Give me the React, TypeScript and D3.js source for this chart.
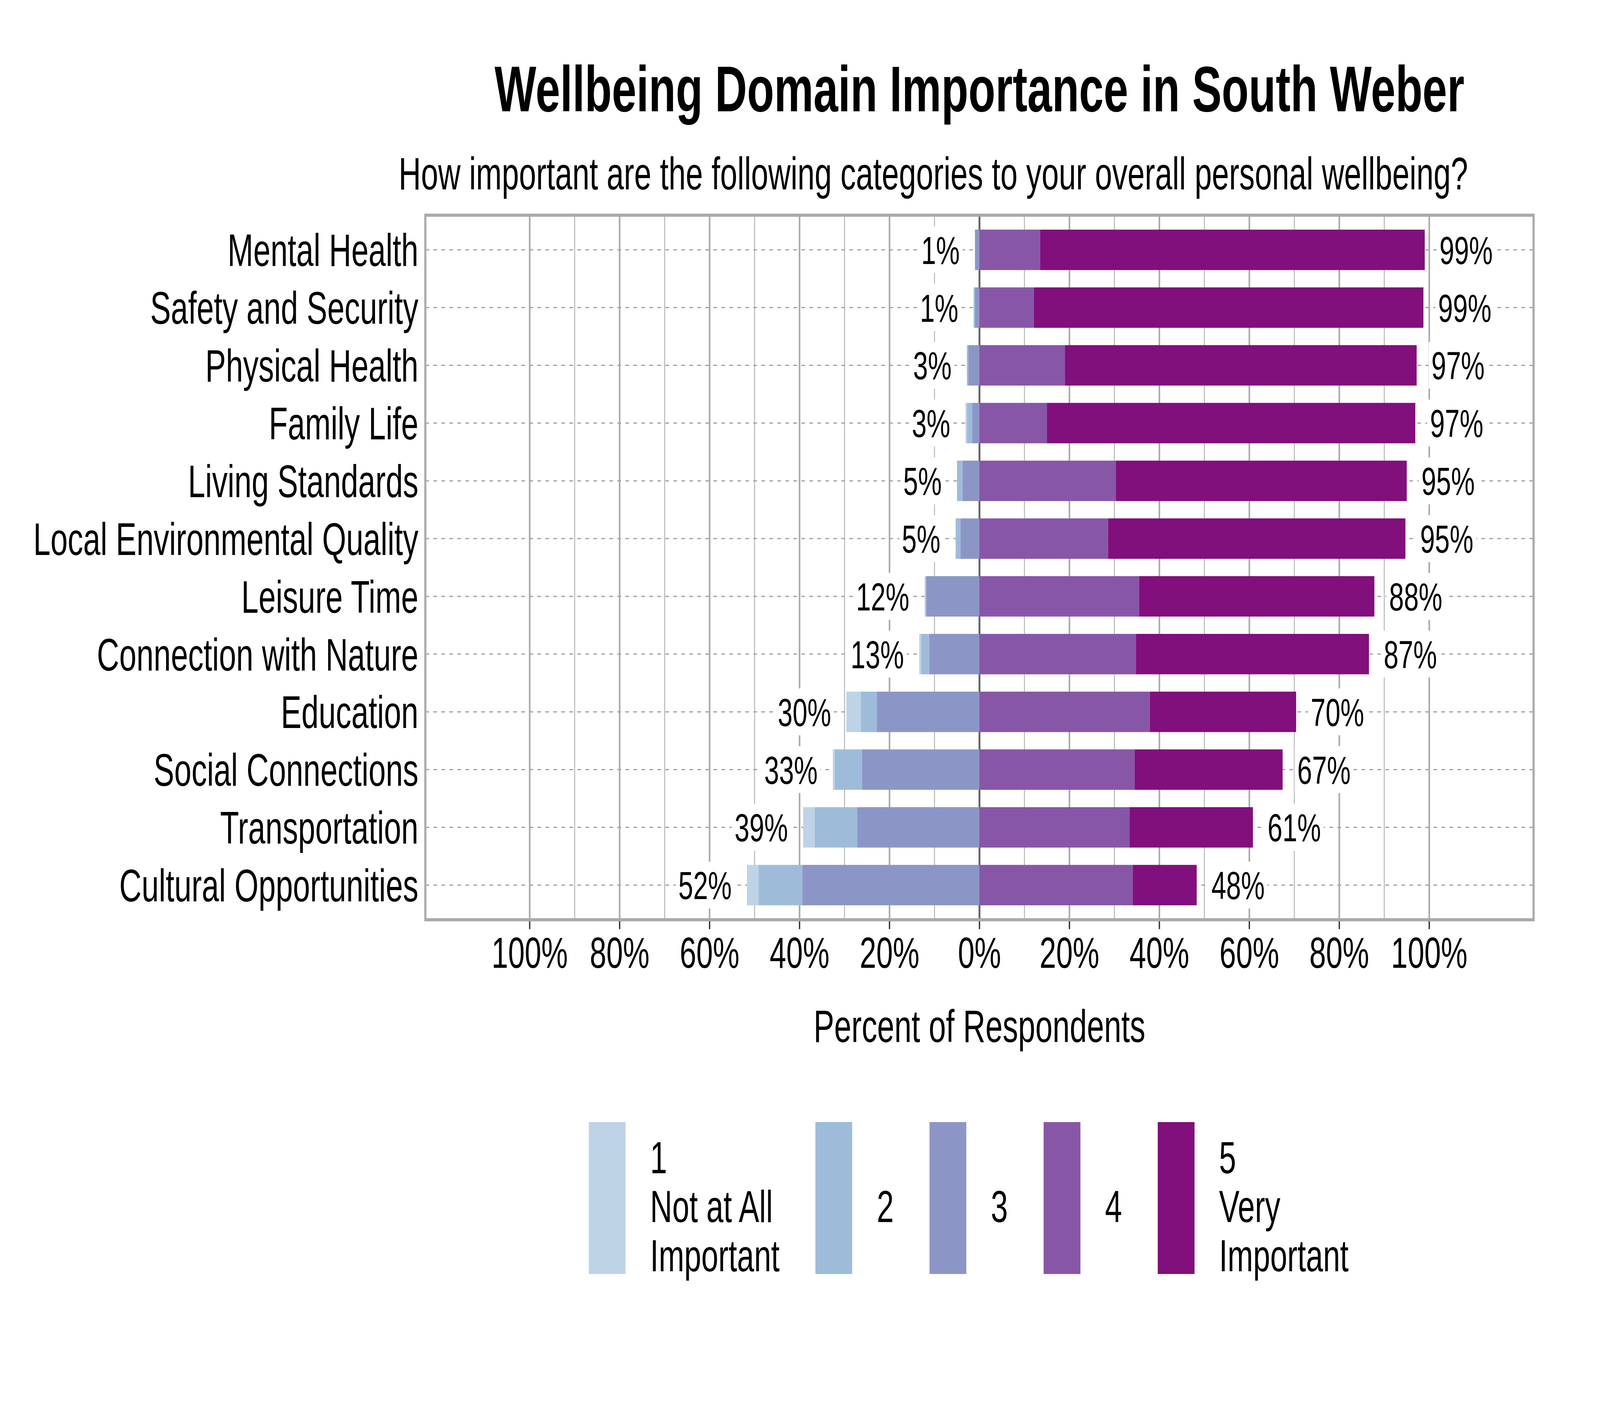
import React, { useEffect, useRef } from 'react';
import * as d3 from 'd3';

const WIDTH = 6000;
const HEIGHT = 3600;
const PANEL = { left: 1595, right: 5751, top: 551, bottom: 2355 };
const FONT = '"Liberation Sans", Arial, Helvetica, sans-serif';

const categories = [
  'Mental Health',
  'Safety and Security',
  'Physical Health',
  'Family Life',
  'Living Standards',
  'Local Environmental Quality',
  'Leisure Time',
  'Connection with Nature',
  'Education',
  'Social Connections',
  'Transportation',
  'Cultural Opportunities',
];

// percent of respondents per answer level
const level1 = [0, 0, 0, 0.3, 0, 0, 0.3, 0.4, 3.2, 0.4, 2.6, 2.6];
const level2 = [0, 0.3, 0.3, 1.2, 1.2, 1.1, 0, 1.8, 3.6, 6.1, 9.4, 9.7];
const level3 = [1.0, 1.0, 2.5, 1.6, 3.8, 4.2, 11.9, 11.2, 22.8, 26.1, 27.2, 39.4];
const level4 = [13.5, 12.1, 19.0, 15.0, 30.3, 28.6, 35.5, 34.8, 37.9, 34.5, 33.4, 34.1];
const level5 = [85.5, 86.6, 78.2, 81.9, 64.7, 66.1, 52.3, 51.8, 32.5, 32.9, 27.4, 14.2];

const legendLabels = [
  ['1', 'Not at All', 'Important'],
  ['2'],
  ['3'],
  ['4'],
  ['5', 'Very', 'Important'],
];

const xTicks = [-100, -80, -60, -40, -20, 0, 20, 40, 60, 80, 100];
const minorTicks = [-90, -70, -50, -30, -10, 10, 30, 50, 70, 90];

const colors = ['#bfd3e6', '#9ebcda', '#8c96c6', '#8856a7', '#810f7c'];

const App = () => {
  const ref = useRef<SVGSVGElement>(null);

  useEffect(() => {
    document.body.style.margin = '0';
    document.body.style.overflow = 'hidden';
    if (!ref.current) return;
    const svg = d3.select(ref.current);
    svg.selectAll('*').remove();

    const x = d3.scaleLinear().domain([-123.2, 123.2]).range([PANEL.left, PANEL.right]);
    const y = d3
      .scaleBand()
      .domain(categories)
      .range([PANEL.top, PANEL.bottom])
      .paddingInner(0.3)
      .paddingOuter(0.25);
    const mid = (c: string) => y(c)! + y.bandwidth() / 2;

    svg.append('rect').attr('width', WIDTH).attr('height', HEIGHT).attr('fill', 'white');

    // titles
    svg
      .append('text')
      .attr('x', 3673)
      .attr('y', 285)
      .attr('text-anchor', 'middle')
      .style('font-family', FONT)
      .style('font-size', '166px')
      .style('font-weight', 'bold')
      .text('Wellbeing Domain Importance in South Weber');

    svg
      .append('text')
      .attr('x', 3500)
      .attr('y', 485)
      .attr('text-anchor', 'middle')
      .style('font-family', FONT)
      .style('font-size', '116px')
      .text('How important are the following categories to your overall personal wellbeing?');

    // grid
    const grid = svg.append('g');
    grid
      .selectAll('line.minor')
      .data(minorTicks)
      .enter()
      .append('line')
      .attr('x1', (d) => x(d))
      .attr('x2', (d) => x(d))
      .attr('y1', PANEL.top)
      .attr('y2', PANEL.bottom)
      .attr('stroke', '#b4b4b4')
      .attr('stroke-width', 3.5);
    grid
      .selectAll('line.major')
      .data(xTicks)
      .enter()
      .append('line')
      .attr('x1', (d) => x(d))
      .attr('x2', (d) => x(d))
      .attr('y1', PANEL.top)
      .attr('y2', PANEL.bottom)
      .attr('stroke', '#aaaaaa')
      .attr('stroke-width', 6);
    grid
      .selectAll('line.row')
      .data(categories)
      .enter()
      .append('line')
      .attr('x1', PANEL.left)
      .attr('x2', PANEL.right)
      .attr('y1', (d) => mid(d))
      .attr('y2', (d) => mid(d))
      .attr('stroke', '#a0a0a0')
      .attr('stroke-width', 3)
      .attr('stroke-dasharray', '14 16');
    grid
      .append('line')
      .attr('x1', x(0))
      .attr('x2', x(0))
      .attr('y1', PANEL.top)
      .attr('y2', PANEL.bottom)
      .attr('stroke', '#666666')
      .attr('stroke-width', 7);

    // bars
    const rows = categories.map((c, i) => {
      const segs = [
        { level: 2, x0: -level3[i], x1: 0 },
        { level: 1, x0: -(level3[i] + level2[i]), x1: -level3[i] },
        { level: 0, x0: -(level3[i] + level2[i] + level1[i]), x1: -(level3[i] + level2[i]) },
        { level: 3, x0: 0, x1: level4[i] },
        { level: 4, x0: level4[i], x1: level4[i] + level5[i] },
      ];
      return {
        cat: c,
        segs,
        low: level1[i] + level2[i] + level3[i],
        high: level4[i] + level5[i],
      };
    });

    const bars = svg.append('g');
    rows.forEach((r) => {
      bars
        .selectAll(null)
        .data(r.segs.filter((s) => s.x1 - s.x0 > 0))
        .enter()
        .append('rect')
        .attr('x', (s) => x(s.x0))
        .attr('width', (s) => x(s.x1) - x(s.x0))
        .attr('y', y(r.cat)!)
        .attr('height', y.bandwidth())
        .attr('fill', (s) => colors[s.level]);
    });

    // value labels with white boxes
    const labels = svg.append('g');
    const addLabel = (xPos: number, yPos: number, anchor: string, txt: string) => {
      const g = labels.append('g');
      const box = g.append('rect').attr('fill', 'white');
      const t = g
        .append('text')
        .attr('x', xPos)
        .attr('y', yPos)
        .attr('dy', '0.36em')
        .attr('text-anchor', anchor)
        .style('font-family', FONT)
        .style('font-size', '100px')
        .text(txt);
      const w = (t.node() as SVGTextElement).getComputedTextLength();
      const left = anchor === 'end' ? xPos - w : xPos;
      box
        .attr('x', left - 10)
        .attr('width', w + 20)
        .attr('y', yPos - 60)
        .attr('height', 120);
    };
    rows.forEach((r) => {
      addLabel(x(-r.low) - 57, mid(r.cat), 'end', `${Math.round(r.low)}%`);
      addLabel(x(r.high) + 55, mid(r.cat), 'start', `${Math.round(r.high)}%`);
    });

    // panel border
    svg
      .append('rect')
      .attr('x', PANEL.left)
      .attr('y', PANEL.top)
      .attr('width', PANEL.right - PANEL.left)
      .attr('height', PANEL.bottom - PANEL.top)
      .attr('fill', 'none')
      .attr('stroke', '#aaaaaa')
      .attr('stroke-width', 8);

    // y axis labels
    svg
      .append('g')
      .selectAll('text')
      .data(categories)
      .enter()
      .append('text')
      .attr('x', 1569)
      .attr('y', (d) => mid(d))
      .attr('dy', '0.36em')
      .attr('text-anchor', 'end')
      .style('font-family', FONT)
      .style('font-size', '116px')
      .text((d) => d);

    // x axis
    const xAxis = svg.append('g');
    xAxis
      .selectAll('line')
      .data(xTicks)
      .enter()
      .append('line')
      .attr('x1', (d) => x(d))
      .attr('x2', (d) => x(d))
      .attr('y1', PANEL.bottom + 4)
      .attr('y2', PANEL.bottom + 24)
      .attr('stroke', '#333333')
      .attr('stroke-width', 5);
    xAxis
      .selectAll('text')
      .data(xTicks)
      .enter()
      .append('text')
      .attr('x', (d) => x(d))
      .attr('y', 2478)
      .attr('text-anchor', 'middle')
      .style('font-family', FONT)
      .style('font-size', '112px')
      .text((d) => `${Math.abs(d)}%`);

    svg
      .append('text')
      .attr('x', 3673)
      .attr('y', 2668)
      .attr('text-anchor', 'middle')
      .style('font-family', FONT)
      .style('font-size', '116px')
      .text('Percent of Respondents');

    // legend
    const legend = svg.append('g');
    let lx = 2208;
    legendLabels.forEach((lines, i) => {
      legend
        .append('rect')
        .attr('x', lx)
        .attr('y', 2873)
        .attr('width', 138)
        .attr('height', 389)
        .attr('fill', colors[i]);
      const baselines = lines.length === 1 ? [3129] : [3004, 3129, 3255];
      let maxW = 0;
      lines.forEach((ln, j) => {
        const t = legend
          .append('text')
          .attr('x', lx + 230)
          .attr('y', baselines[j])
          .style('font-family', FONT)
          .style('font-size', '115px')
          .text(ln);
        maxW = Math.max(maxW, (t.node() as SVGTextElement).getComputedTextLength());
      });
      lx += 230 + maxW + 134;
    });
  }, []);

  return (
    <svg
      ref={ref}
      viewBox={`0 0 ${WIDTH} ${HEIGHT}`}
      preserveAspectRatio="none"
      style={{ position: 'fixed', left: 0, top: 0, width: '100vw', height: '100vh', display: 'block' }}
    />
  );
};

export default App;
